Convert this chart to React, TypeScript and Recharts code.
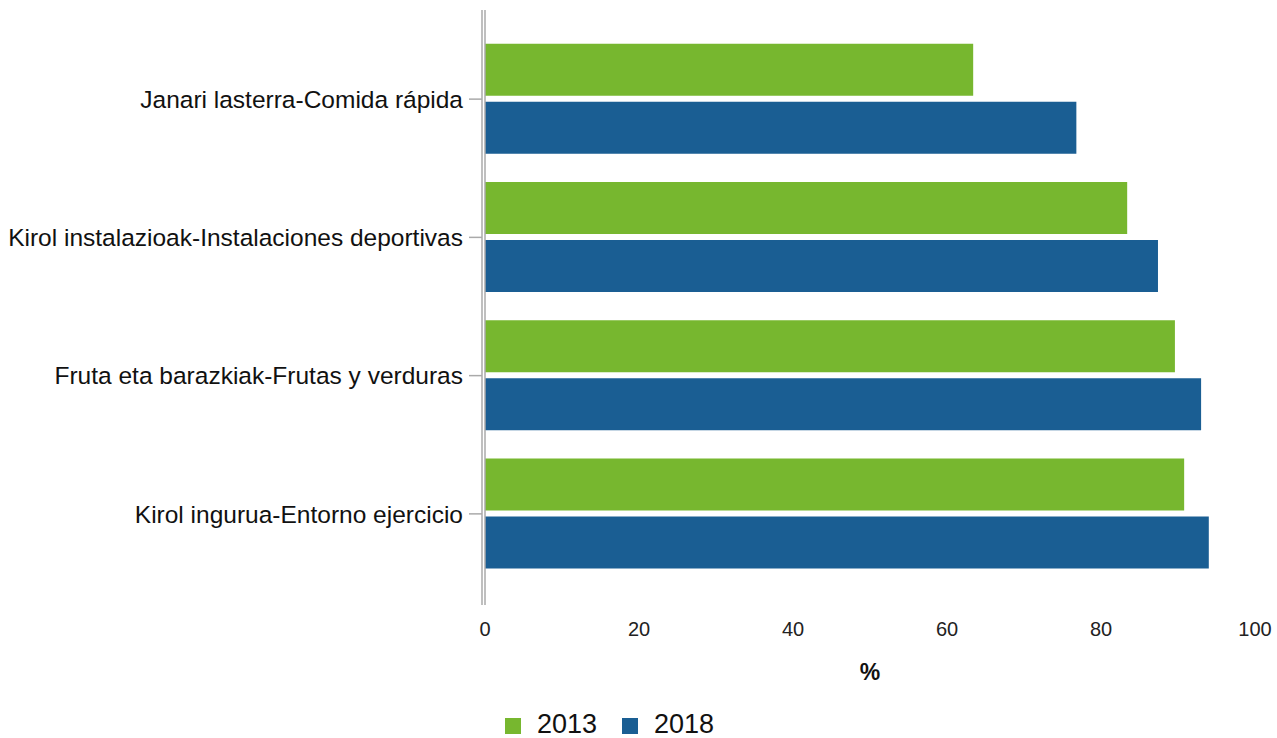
import { BarChart, Bar, XAxis, YAxis, Legend } from 'recharts';

const categories = [
  'Janari lasterra-Comida rápida',
  'Kirol instalazioak-Instalaciones deportivas',
  'Fruta eta barazkiak-Frutas y verduras',
  'Kirol ingurua-Entorno ejercicio',
];
const values2013 = [63.4, 83.4, 89.6, 90.8];
const values2018 = [76.8, 87.4, 93.0, 94.0];
const xTicks = [0, 20, 40, 60, 80, 100];

const GREEN = '#77b72f';
const BLUE = '#1a5e93';
const AXIS = '#aaaaaa';
const FONT = '"Liberation Sans", Arial, sans-serif';

const data = categories.map((name, i) => ({
  name,
  y2013: values2013[i],
  y2018: values2018[i],
}));

export default function App() {
  return (
    <div style={{ position: 'absolute', left: 0, top: 0, fontFamily: FONT }}>
      <BarChart
        width={1277}
        height={738}
        data={data}
        layout="vertical"
        margin={{ top: 10, right: 22, bottom: 25, left: 0 }}
        barCategoryGap="10%"
        barGap={6}
      >
        <XAxis
          type="number"
          domain={[0, 100]}
          ticks={xTicks}
          axisLine={false}
          tickLine={false}
          tickMargin={11}
          height={82}
          tick={{ fill: '#222', fontSize: 20, fontFamily: FONT }}
          label={{
            value: '%',
            position: 'insideBottom',
            offset: 7,
            fill: '#111',
            fontSize: 23,
            fontWeight: 'bold',
            fontFamily: FONT,
          }}
        />
        <YAxis
          yAxisId="inner"
          type="category"
          dataKey="name"
          width={3}
          tick={false}
          tickLine={false}
          axisLine={{ stroke: AXIS, strokeWidth: 1.5 }}
        />
        <YAxis
          yAxisId="main"
          type="category"
          dataKey="name"
          width={482}
          padding={{ top: 20, bottom: 22 }}
          tickSize={13}
          tickMargin={6}
          axisLine={{ stroke: AXIS, strokeWidth: 1.5 }}
          tickLine={{ stroke: AXIS, strokeWidth: 1.5 }}
          tick={{ fill: '#111', fontSize: 24.5, fontFamily: FONT }}
        />
        <Legend
          verticalAlign="bottom"
          iconType="square"
          iconSize={16}
          wrapperStyle={{
            left: 0,
            width: 1244,
            bottom: 1,
            fontSize: 27,
            lineHeight: '26px',
            fontFamily: FONT,
          }}
          formatter={(value) => (
            <span style={{ color: '#111', marginLeft: 12, marginRight: 15 }}>{value}</span>
          )}
        />
        <Bar yAxisId="main" dataKey="y2013" name="2013" fill={GREEN} isAnimationActive={false} />
        <Bar yAxisId="main" dataKey="y2018" name="2018" fill={BLUE} isAnimationActive={false} />
      </BarChart>
    </div>
  );
}
